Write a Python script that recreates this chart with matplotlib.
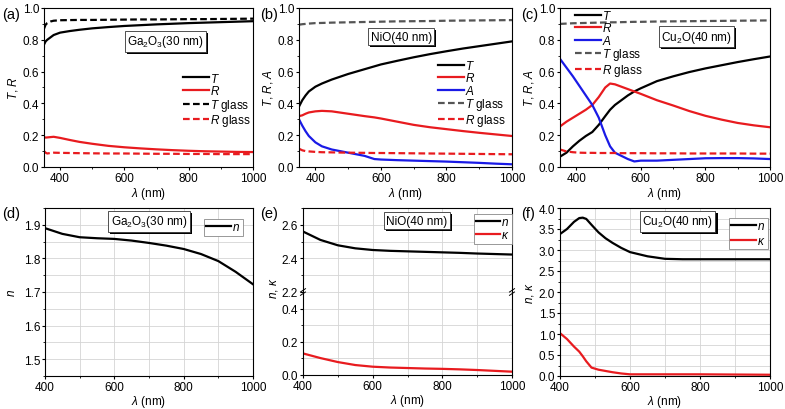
import matplotlib
matplotlib.use("Agg")
import matplotlib.pyplot as plt
import matplotlib.patheffects as pe
from matplotlib.ticker import MultipleLocator, FormatStrFormatter

plt.rcParams['font.family'] = ['Liberation Sans', 'DejaVu Sans']
plt.rcParams['mathtext.fontset'] = 'custom'
plt.rcParams['mathtext.rm'] = 'Liberation Sans'
plt.rcParams['mathtext.it'] = 'Liberation Sans:italic'
plt.rcParams['font.size'] = 8.5

RED = '#e81b1f'
BLUE = '#1a1ae6'
GREY = '#555555'

# (a) Ga2O3 30 nm
wl_a = [350, 355, 360, 370, 380, 400, 430, 460, 500, 550, 600, 650, 700, 750, 800, 850, 900, 950, 1000]
T_a = [0.77, 0.79, 0.80, 0.815, 0.83, 0.845, 0.855, 0.863, 0.872, 0.88, 0.887, 0.892, 0.897, 0.901, 0.905, 0.908, 0.911, 0.914, 0.917]
R_a = [0.188, 0.185, 0.186, 0.188, 0.19, 0.183, 0.17, 0.158, 0.146, 0.133, 0.124, 0.117, 0.111, 0.106, 0.102, 0.099, 0.097, 0.095, 0.094]
Tg_a = [0.87, 0.895, 0.905, 0.915, 0.92, 0.923, 0.924, 0.925, 0.925, 0.926, 0.927, 0.928, 0.928, 0.929, 0.93, 0.93, 0.931, 0.932, 0.933]
Rg_a = [0.10, 0.09, 0.085, 0.088, 0.09, 0.089, 0.088, 0.087, 0.086, 0.085, 0.085, 0.084, 0.083, 0.083, 0.082, 0.082, 0.081, 0.081, 0.081]

# (b) NiO 40 nm
wl_b = [350, 360, 370, 380, 400, 420, 450, 500, 550, 580, 600, 650, 700, 750, 800, 850, 900, 950, 1000]
T_b = [0.38, 0.42, 0.45, 0.475, 0.505, 0.525, 0.55, 0.585, 0.615, 0.633, 0.645, 0.668, 0.69, 0.71, 0.728, 0.745, 0.76, 0.775, 0.79]
R_b = [0.32, 0.325, 0.335, 0.343, 0.35, 0.353, 0.35, 0.335, 0.32, 0.312, 0.305, 0.285, 0.265, 0.25, 0.238, 0.226, 0.215, 0.205, 0.195]
A_b = [0.30, 0.26, 0.225, 0.195, 0.155, 0.13, 0.11, 0.09, 0.07, 0.05, 0.047, 0.043, 0.04, 0.037, 0.034, 0.03, 0.026, 0.021, 0.017]
Tg_b = [0.895, 0.898, 0.9, 0.902, 0.905, 0.906, 0.908, 0.91, 0.912, 0.913, 0.914, 0.916, 0.917, 0.918, 0.92, 0.921, 0.922, 0.923, 0.924]
Rg_b = [0.115, 0.105, 0.1, 0.098, 0.095, 0.093, 0.092, 0.09, 0.089, 0.088, 0.088, 0.087, 0.086, 0.085, 0.084, 0.083, 0.082, 0.081, 0.08]

# (c) Cu2O 40 nm
wl_c = [350, 370, 390, 410, 430, 450, 470, 490, 505, 520, 540, 560, 580, 600, 650, 700, 750, 800, 850, 900, 950, 1000]
T_c = [0.065, 0.09, 0.13, 0.165, 0.195, 0.22, 0.265, 0.32, 0.36, 0.39, 0.42, 0.45, 0.475, 0.495, 0.54, 0.57, 0.597, 0.62, 0.64, 0.66, 0.678, 0.695]
R_c = [0.255, 0.285, 0.31, 0.335, 0.36, 0.39, 0.44, 0.5, 0.525, 0.52, 0.505, 0.49, 0.475, 0.46, 0.42, 0.387, 0.352, 0.322, 0.298, 0.277, 0.262, 0.25]
A_c = [0.68, 0.625, 0.57, 0.51, 0.45, 0.39, 0.31, 0.2, 0.13, 0.09, 0.07, 0.05, 0.035, 0.04, 0.04, 0.045, 0.05, 0.055, 0.056, 0.056, 0.054, 0.05]
Tg_c = [0.90, 0.902, 0.904, 0.905, 0.906, 0.907, 0.908, 0.909, 0.91, 0.91, 0.911, 0.912, 0.913, 0.913, 0.915, 0.916, 0.917, 0.918, 0.919, 0.92, 0.921, 0.922]
Rg_c = [0.11, 0.098, 0.093, 0.09, 0.089, 0.089, 0.088, 0.088, 0.088, 0.088, 0.087, 0.087, 0.087, 0.087, 0.086, 0.086, 0.085, 0.085, 0.085, 0.085, 0.084, 0.084]

# (d), (e) optical constants
wl_n = [400, 450, 500, 550, 600, 650, 700, 750, 800, 850, 900, 950, 1000]
n_d = [1.89, 1.873, 1.863, 1.86, 1.858, 1.853, 1.846, 1.838, 1.828, 1.813, 1.792, 1.76, 1.723]
n_e = [2.56, 2.51, 2.478, 2.46, 2.45, 2.445, 2.442, 2.439, 2.436, 2.433, 2.429, 2.426, 2.423]
k_e = [0.13, 0.102, 0.078, 0.06, 0.05, 0.045, 0.042, 0.039, 0.037, 0.034, 0.03, 0.025, 0.02]

# (f) Cu2O optical constants
wl_f = [400, 420, 440, 455, 465, 475, 490, 510, 530, 550, 575, 600, 650, 700, 750, 800, 900, 1000]
n_f = [3.38, 3.5, 3.67, 3.76, 3.77, 3.74, 3.6, 3.42, 3.28, 3.17, 3.05, 2.95, 2.85, 2.79, 2.78, 2.78, 2.78, 2.78]
k_f = [1.02, 0.88, 0.7, 0.58, 0.47, 0.35, 0.2, 0.15, 0.12, 0.09, 0.06, 0.04, 0.04, 0.04, 0.04, 0.04, 0.035, 0.03]

W, H = 785, 410
fig = plt.figure(figsize=(W / 100, H / 100), dpi=100)


def box(l, t, r, b):
    return [l / W, 1 - b / H, (r - l) / W, (b - t) / H]


def style(ax, grid=False):
    for s in ax.spines.values():
        s.set_linewidth(0.8)
    ax.tick_params(direction='out', length=2.5, width=0.8, labelsize=8.5, pad=1)
    ax.tick_params(which='minor', direction='out', length=1.5, width=0.6)
    ax.xaxis.set_major_locator(MultipleLocator(200))
    ax.xaxis.set_minor_locator(MultipleLocator(100))
    ax.yaxis.set_major_formatter(FormatStrFormatter('%.1f'))
    if grid:
        ax.grid(True, which='both', color='#d4d4d4', lw=0.6)
        ax.set_axisbelow(True)


def tag(ax, txt, x, y):
    t = ax.text(x, y, txt, transform=ax.transAxes, ha='center', va='center', fontsize=8.5,
                bbox=dict(boxstyle='square,pad=0.2', fc='white', ec='#333333', lw=0.6), zorder=5)
    t.get_bbox_patch().set_path_effects([pe.SimplePatchShadow(offset=(1.5, -1.5), shadow_rgbFace='k', alpha=1), pe.Normal()])


def framed_legend(ax, anchor, hl, sp=0.05):
    leg = ax.legend(loc='upper right', bbox_to_anchor=anchor, fontsize=8.5, fancybox=False,
                    edgecolor='#888888', handlelength=hl, handletextpad=0.1, borderpad=0.2,
                    borderaxespad=0, labelspacing=sp, framealpha=1)
    leg.get_frame().set_linewidth(0.6)
    return leg


lw = 1.6
xlab = r'$\lambda$ (nm)'
legkw = dict(frameon=False, fontsize=8.5, handlelength=2.2, handletextpad=0.1,
             labelspacing=-0.04, borderpad=0, borderaxespad=0)

# (a)
ax = fig.add_axes(box(44, 9, 253, 168))
style(ax)
ax.plot(wl_a, T_a, color='k', lw=lw, label='$T$')
ax.plot(wl_a, R_a, color=RED, lw=lw, label='$R$')
ax.plot(wl_a, Tg_a, color='k', lw=lw, ls=(0, (3, 1.5)), label='$T$ glass')
ax.plot(wl_a, Rg_a, color=RED, lw=lw, ls=(0, (3, 1.5)), label='$R$ glass')
ax.set_xlim(350, 1000)
ax.set_ylim(0, 1.0)
ax.yaxis.set_major_locator(MultipleLocator(0.2))
ax.yaxis.set_minor_locator(MultipleLocator(0.1))
ax.set_xlabel(xlab, labelpad=0.5)
ax.set_ylabel('$T$, $R$', labelpad=2)
ax.legend(loc='upper right', bbox_to_anchor=(0.99, 0.60), **legkw)
tag(ax, 'Ga$_2$O$_3$(30 nm)', 0.58, 0.79)
fig.text(2 / W, 1 - 15 / H, '(a)', fontsize=10.5, va='center')

# (b)
ax = fig.add_axes(box(299, 9, 512, 168))
style(ax)
ax.plot(wl_b, T_b, color='k', lw=lw, label='$T$')
ax.plot(wl_b, R_b, color=RED, lw=lw, label='$R$')
ax.plot(wl_b, A_b, color=BLUE, lw=lw, label='$A$')
ax.plot(wl_b, Tg_b, color=GREY, lw=lw, ls=(0, (3, 1.5)), label='$T$ glass')
ax.plot(wl_b, Rg_b, color=RED, lw=lw, ls=(0, (3, 1.5)), label='$R$ glass')
ax.set_xlim(350, 1000)
ax.set_ylim(0, 1.0)
ax.yaxis.set_major_locator(MultipleLocator(0.2))
ax.yaxis.set_minor_locator(MultipleLocator(0.1))
ax.set_xlabel(xlab, labelpad=0.5)
ax.set_ylabel('$T$, $R$, $A$', labelpad=2)
ax.legend(loc='upper right', bbox_to_anchor=(0.97, 0.68), **legkw)
tag(ax, 'NiO(40 nm)', 0.48, 0.82)
fig.text(260 / W, 1 - 15 / H, '(b)', fontsize=10.5, va='center')

# (c)
ax = fig.add_axes(box(560, 9, 770, 168))
style(ax)
ax.plot(wl_c, T_c, color='k', lw=lw, label='$T$')
ax.plot(wl_c, R_c, color=RED, lw=lw, label='$R$')
ax.plot(wl_c, A_c, color=BLUE, lw=lw, label='$A$')
ax.plot(wl_c, Tg_c, color=GREY, lw=lw, ls=(0, (3, 1.5)), label='$T$ glass')
ax.plot(wl_c, Rg_c, color=RED, lw=lw, ls=(0, (3, 1.5)), label='$R$ glass')
ax.set_xlim(350, 1000)
ax.set_ylim(0, 1.0)
ax.yaxis.set_major_locator(MultipleLocator(0.2))
ax.yaxis.set_minor_locator(MultipleLocator(0.1))
ax.set_xlabel(xlab, labelpad=0.5)
ax.set_ylabel('$T$, $R$, $A$', labelpad=2)
ax.legend(loc='upper left', bbox_to_anchor=(0.07, 0.995), **legkw)
tag(ax, 'Cu$_2$O(40 nm)', 0.65, 0.82)
fig.text(521 / W, 1 - 15 / H, '(c)', fontsize=10.5, va='center')

# (d)
ax = fig.add_axes(box(45, 209, 253, 377))
style(ax, grid=True)
ax.plot(wl_n, n_d, color='k', lw=lw, label='$n$')
ax.set_xlim(400, 1000)
ax.set_ylim(1.45, 1.95)
ax.yaxis.set_major_locator(MultipleLocator(0.1))
ax.yaxis.set_minor_locator(MultipleLocator(0.05))
ax.set_xlabel(xlab, labelpad=0)
ax.set_ylabel('$n$', labelpad=4)
framed_legend(ax, (0.95, 0.935), 2.1)
tag(ax, 'Ga$_2$O$_3$(30 nm)', 0.5, 0.92)
fig.text(2 / W, 1 - 214 / H, '(d)', fontsize=10.5, va='center')

# (e) broken axis
axu = fig.add_axes(box(303, 209, 512, 293))
axl = fig.add_axes(box(303, 293, 512, 376))
for a in (axu, axl):
    style(a, grid=True)
    a.set_xlim(400, 1000)
    a.yaxis.set_major_locator(MultipleLocator(0.2))
    a.yaxis.set_minor_locator(MultipleLocator(0.1))
axu.plot(wl_n, n_e, color='k', lw=lw, label='$n$')
axu.plot([], [], color=RED, lw=lw, label=r'$\kappa$')
axl.plot(wl_n, k_e, color=RED, lw=lw)
axu.set_ylim(2.2, 2.7)
axl.set_ylim(0, 0.5)
axu.spines['bottom'].set_visible(False)
axl.spines['top'].set_visible(False)
axu.tick_params(axis='x', which='both', bottom=False, labelbottom=False)
axl.set_xlabel(xlab, labelpad=0)
for xx in (0, 1):
    for dy in (-0.02, 0.02):
        axl.plot([xx - 0.012, xx + 0.012], [1 + dy - 0.02, 1 + dy + 0.02], transform=axl.transAxes,
                 color='k', lw=0.7, clip_on=False, zorder=6)
framed_legend(axu, (1.0, 0.93), 2.0, 0.1)
tag(axu, 'NiO(40 nm)', 0.545, 0.85)
fig.text(274 / W, 1 - 288 / H, r'$n$, $\kappa$', rotation=90, ha='center', va='center')
fig.text(260 / W, 1 - 214 / H, '(e)', fontsize=10.5, va='center')

# (f)
ax = fig.add_axes(box(560, 209, 770, 377))
style(ax, grid=True)
ax.plot(wl_f, n_f, color='k', lw=lw, label='$n$')
ax.plot(wl_f, k_f, color=RED, lw=lw, label=r'$\kappa$')
ax.set_xlim(400, 1000)
ax.set_ylim(0, 4.0)
ax.yaxis.set_major_locator(MultipleLocator(0.5))
ax.yaxis.set_minor_locator(MultipleLocator(0.25))
ax.set_xlabel(xlab, labelpad=0)
ax.set_ylabel(r'$n$, $\kappa$', labelpad=2)
framed_legend(ax, (0.99, 0.94), 2.1, 0.2)
tag(ax, 'Cu$_2$O(40 nm)', 0.56, 0.92)
fig.text(521 / W, 1 - 214 / H, '(f)', fontsize=10.5, va='center')

fig.savefig('out.png', dpi=100)
